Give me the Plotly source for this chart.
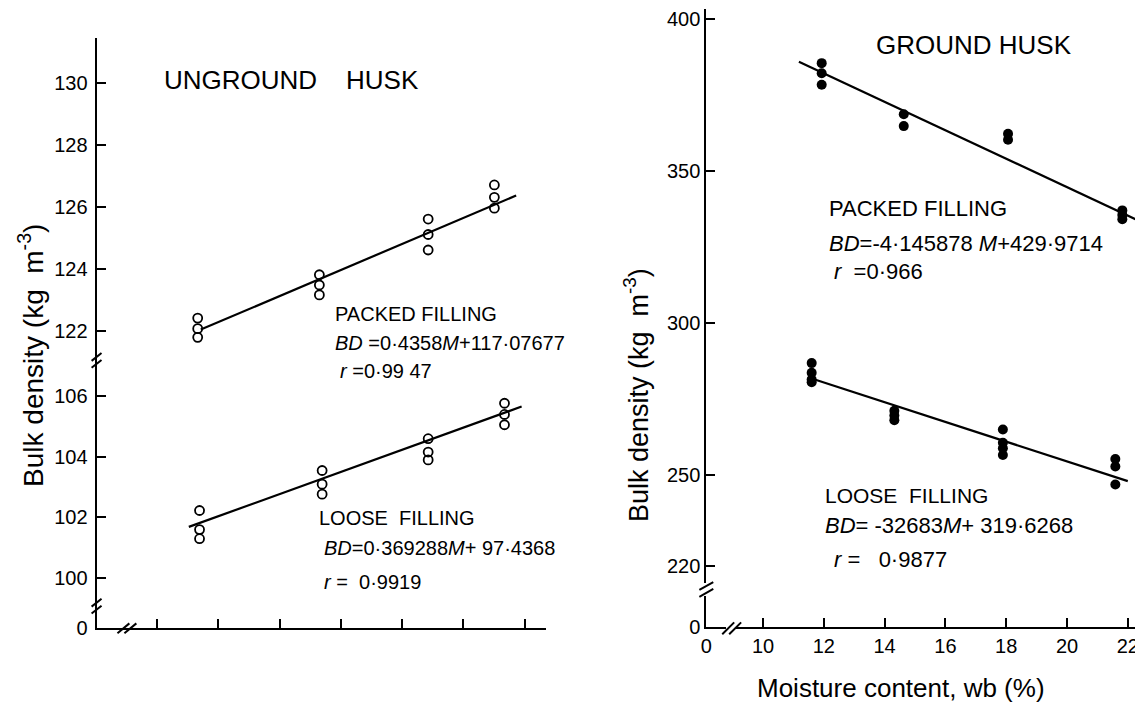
import plotly.graph_objects as go

# The page body keeps its default 8px margin, so the figure is drawn 8px in
# from the window's top-left corner; map window pixels to paper fractions.
WIN_W, WIN_H = 1143, 713
OFF = 8
W, H = WIN_W - OFF, WIN_H - OFF

def fx(px):
    return (px - OFF) / W

def fy(py):
    return 1 - (py - OFF) / H

# ---------------- data ----------------
# Unground husk, packed filling
ug_packed_m = [11.33, 11.33, 11.33, 15.30, 15.30, 15.30, 18.85, 18.85, 18.85, 21.01, 21.01, 21.01]
ug_packed_bd = [122.40, 122.06, 121.78, 123.80, 123.47, 123.15, 125.60, 125.10, 124.60, 126.70, 126.30, 125.95]
ug_packed_fit_m = [11.43, 21.72]
ug_packed_fit_bd = [122.03, 126.36]

# Unground husk, loose filling
ug_loose_m = [11.39, 11.39, 11.39, 15.39, 15.39, 15.39, 18.85, 18.85, 18.85, 21.34, 21.34, 21.34]
ug_loose_bd = [102.23, 101.60, 101.30, 103.55, 103.10, 102.77, 104.60, 104.16, 103.90, 105.77, 105.40, 105.06]
ug_loose_fit_m = [11.04, 21.90]
ug_loose_fit_bd = [101.69, 105.66]

# Ground husk, packed filling
g_packed_m = [11.93, 11.93, 11.93, 14.63, 14.63, 18.06, 18.06, 21.82, 21.82, 21.82]
g_packed_bd = [385.4, 382.1, 378.3, 368.6, 364.7, 362.2, 360.2, 337.0, 335.5, 334.1]
g_packed_fit_m = [11.18, 22.40]
g_packed_fit_bd = [385.9, 333.4]

# Ground husk, loose filling
g_loose_m = [11.60, 11.60, 11.60, 11.60, 14.32, 14.32, 14.32, 17.89, 17.89, 17.89, 17.89, 21.59, 21.59, 21.59]
g_loose_bd = [286.8, 283.6, 281.4, 280.5, 271.1, 269.6, 268.0, 265.0, 260.6, 258.8, 256.6, 255.3, 252.8, 246.9]
g_loose_fit_m = [11.70, 22.00]
g_loose_fit_bd = [281.4, 248.0]

left_packed_ticks = [122, 124, 126, 128, 130]
left_loose_ticks = [100, 102, 104, 106]
right_ticks = [220, 250, 300, 350, 400]
x_ticks = [10, 12, 14, 16, 18, 20, 22]
zero_tick = [0]

FONT = "Liberation Sans"
BLACK = "black"

fig = go.Figure()

open_marker = dict(symbol="circle-open", size=9, color=BLACK, line=dict(width=1.8, color=BLACK))
fill_marker = dict(symbol="circle", size=10, color=BLACK)
fit_line = dict(color=BLACK, width=2.2)

fig.add_trace(go.Scatter(x=ug_packed_m, y=ug_packed_bd, mode="markers", marker=open_marker,
                         xaxis="x", yaxis="y", showlegend=False))
fig.add_trace(go.Scatter(x=ug_packed_fit_m, y=ug_packed_fit_bd, mode="lines", line=fit_line,
                         xaxis="x", yaxis="y", showlegend=False))
fig.add_trace(go.Scatter(x=ug_loose_m, y=ug_loose_bd, mode="markers", marker=open_marker,
                         xaxis="x", yaxis="y2", showlegend=False))
fig.add_trace(go.Scatter(x=ug_loose_fit_m, y=ug_loose_fit_bd, mode="lines", line=fit_line,
                         xaxis="x", yaxis="y2", showlegend=False))
fig.add_trace(go.Scatter(x=g_packed_m, y=g_packed_bd, mode="markers", marker=fill_marker,
                         xaxis="x2", yaxis="y4", showlegend=False))
fig.add_trace(go.Scatter(x=g_packed_fit_m, y=g_packed_fit_bd, mode="lines", line=fit_line,
                         xaxis="x2", yaxis="y4", showlegend=False))
fig.add_trace(go.Scatter(x=g_loose_m, y=g_loose_bd, mode="markers", marker=fill_marker,
                         xaxis="x2", yaxis="y4", showlegend=False))
fig.add_trace(go.Scatter(x=g_loose_fit_m, y=g_loose_fit_bd, mode="lines", line=fit_line,
                         xaxis="x2", yaxis="y4", showlegend=False))
# empty traces so that the short "0" axis segments are registered as subplots
for xa, ya in [("x", "y3"), ("x3", "y5"), ("x2", "y5"), ("x3", "y4")]:
    fig.add_trace(go.Scatter(x=[], y=[], mode="markers", xaxis=xa, yaxis=ya,
                             showlegend=False, hoverinfo="skip"))

axis_common = dict(showline=True, linecolor=BLACK, linewidth=2, ticks="inside", ticklen=9,
                   tickwidth=2, tickcolor=BLACK, showgrid=False, zeroline=False,
                   tickfont=dict(family=FONT, size=20, color=BLACK), fixedrange=True,
                   ticklabeloverflow="allow")

fig.update_layout(
    width=W, height=H,
    margin=dict(l=0, r=0, t=0, b=0),
    paper_bgcolor="white", plot_bgcolor="white",
    showlegend=False,
    # left panel
    xaxis=dict(domain=[fx(91), fx(543)], range=[8.03, 22.70], anchor="y3",
               tickmode="array", tickvals=x_ticks, showticklabels=False, **axis_common),
    yaxis=dict(domain=[fy(365), fy(38)], range=[121.05, 131.43], anchor="x",
               tickmode="array", tickvals=left_packed_ticks, ticklabelstandoff=3, **axis_common),
    yaxis2=dict(domain=[fy(615), fy(365)], range=[99.09, 107.2], anchor="x",
                tickmode="array", tickvals=left_loose_ticks, ticklabelstandoff=3, **axis_common),
    yaxis3=dict(domain=[fy(638), fy(615)], range=[0, 1], anchor="x",
                tickmode="array", tickvals=zero_tick, ticklabelstandoff=3, **axis_common),
    # right panel
    xaxis2=dict(domain=[fx(734), fx(1143)], range=[9.116, 22.50], anchor="y5",
                tickmode="array", tickvals=x_ticks, **axis_common),
    xaxis3=dict(domain=[fx(704), fx(724)], range=[0, 1], anchor="y5",
                tickmode="array", tickvals=zero_tick, **axis_common),
    yaxis4=dict(domain=[fy(592), fy(8)], range=[214.5, 403.2], anchor="x3",
                tickmode="array", tickvals=right_ticks, **axis_common),
    yaxis5=dict(domain=[fy(637), fy(605)], range=[0, 1], anchor="x3",
                tickmode="array", tickvals=zero_tick, **axis_common),
)

# axis-break marks (decoration)
def slash(cx, cy, dx=6, dy=6):
    return dict(type="line", xref="paper", yref="paper",
                x0=fx(cx - dx), y0=fy(cy + dy), x1=fx(cx + dx), y1=fy(cy - dy),
                line=dict(color=BLACK, width=2))

shapes = []
shapes += [slash(91, 362, 5, 4), slash(91, 369, 5, 4)]
shapes += [slash(91, 612, 5, 4), slash(91, 619, 5, 4)]
shapes += [slash(118, 638, 6, 5), slash(125, 638, 6, 5)]
shapes += [slash(704, 595, 7, 4), slash(704, 602, 7, 4)]
shapes += [slash(726, 638, 6, 6), slash(733, 638, 6, 6)]
fig.update_layout(shapes=shapes)

ann = []

def text(x, y, s, size, xanchor="left", angle=0):
    ann.append(dict(x=fx(x), y=fy(y), xref="paper", yref="paper", text=s, showarrow=False,
                    xanchor=xanchor, yanchor="middle", textangle=angle,
                    font=dict(family=FONT, size=size, color=BLACK)))

NB = "&nbsp;"

text(287, 80, "UNGROUND" + NB * 4 + "HUSK", 26, "center")
text(973, 45, "GROUND HUSK", 26, "center")

# left panel
text(329, 318, "PACKED FILLING", 20)
text(329, 348, "<i>BD</i> =0·4358<i>M</i>+117·07677", 20)
text(334, 376, "<i>r</i> =0·99 47", 20)
text(313, 526, "LOOSE" + NB * 2 + "FILLING", 20)
text(318, 556, "<i>BD</i>=0·369288<i>M</i>+ 97·4368", 20)
text(318, 591, "<i>r</i> =" + NB * 2 + "0·9919", 20)

# right panel
text(825, 211, "PACKED FILLING", 22)
text(825, 247, "<i>BD</i>=-4·145878 <i>M</i>+429·9714", 22)
text(830, 275, "<i>r</i>" + NB * 2 + "=0·966", 22)
text(821, 503, "LOOSE" + NB * 2 + "FILLING", 21)
text(821, 533, "<i>BD</i>= -32683<i>M</i>+ 319·6268", 22)
text(830, 568, "<i>r</i> =" + NB * 3 + "0·9877", 22)

# axis titles
text(25, 360, "Bulk density (kg" + NB * 2 + "m<sup>-3</sup>)", 28, "center", -90)
text(634, 401, "Bulk density (kg" + NB * 2 + "m<sup>-3</sup>)", 27, "center", -90)
text(900, 699, "Moisture content, wb (%)", 26, "center")

fig.update_layout(annotations=ann)

fig.write_html("out.html")
